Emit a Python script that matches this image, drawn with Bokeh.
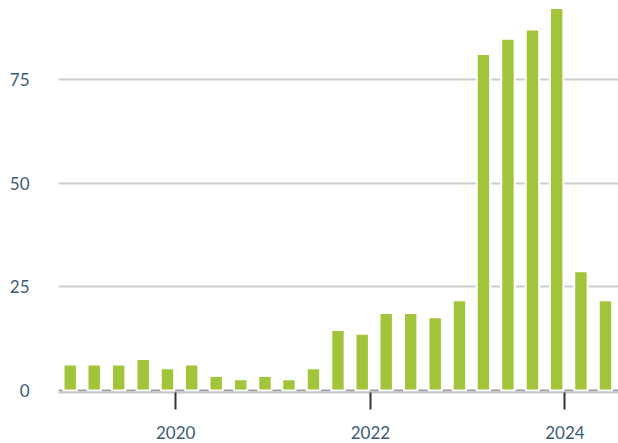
import pandas as pd
from bokeh.plotting import figure
from bokeh.models import ColumnDataSource, Range1d, FixedTicker, DatetimeTickFormatter, Span
from bokeh.embed import file_html
from bokeh.resources import INLINE

# Quarter-end months (bars dated at the first of the month)
quarters = ["2018-12", "2019-03", "2019-06", "2019-09", "2019-12",
            "2020-03", "2020-06", "2020-09", "2020-12",
            "2021-03", "2021-06", "2021-09", "2021-12",
            "2022-03", "2022-06", "2022-09", "2022-12",
            "2023-03", "2023-06", "2023-09", "2023-12",
            "2024-03", "2024-06"]
values = [6.3, 6.3, 6.3, 7.6, 5.4, 6.3, 3.5, 2.7, 3.5, 2.7, 5.4,
          14.6, 13.7, 18.7, 18.7, 17.7, 21.8, 81.2, 84.9, 87.1, 92.3,
          28.8, 21.8]
x_tick_years = [2020, 2022, 2024]
y_ticks = [0, 25, 50, 75]

dates = pd.to_datetime([q + "-01" for q in quarters])
source = ColumnDataSource(data=dict(date=dates, value=values))

TEXT = "#3d5b78"
FONT = "Lato"

p = figure(width=618, height=443, x_axis_type="datetime",
           output_backend="svg", toolbar_location=None,
           x_range=Range1d(start=pd.Timestamp("2018-10-18"), end=pd.Timestamp("2024-07-20")),
           y_range=Range1d(start=-0.48, end=94.11),
           min_border_left=58, min_border_right=0, min_border_top=0, min_border_bottom=51)
p.outline_line_color = None
p.background_fill_color = "white"

zero = Span(location=0, dimension="width", line_color="#9c9fa2", line_width=2, level="underlay")
p.add_layout(zero)

bar_w = 50.3 * 24 * 3600 * 1000
p.vbar(x="date", top="value", bottom=0, width=bar_w, source=source,
       fill_color="#a2c43a", line_color="white", line_width=2)

# x axis
x_ticks_ms = [pd.Timestamp(f"{y}-01-01").value / 1e6 for y in x_tick_years]
p.xaxis.ticker = FixedTicker(ticks=x_ticks_ms)
fmt = "%Y"
p.xaxis.formatter = DatetimeTickFormatter(years=fmt, months=fmt, days=fmt, hours=fmt,
                                          minutes=fmt, seconds=fmt, milliseconds=fmt,
                                          microseconds=fmt, hourmin=fmt, minsec=fmt)
p.xaxis.axis_line_color = "#c3c7cb"
p.xaxis.axis_line_width = 2
p.xaxis.major_tick_line_color = "#333333"
p.xaxis.major_tick_line_width = 2
p.xaxis.major_tick_out = 17
p.xaxis.major_tick_in = 0
p.xaxis.minor_tick_line_color = None
p.xaxis.major_label_text_font = FONT
p.xaxis.major_label_text_font_size = "17px"
p.xaxis.major_label_text_color = TEXT
p.xaxis.major_label_standoff = 16

# y axis
p.yaxis.ticker = FixedTicker(ticks=y_ticks)
p.yaxis.axis_line_color = None
p.yaxis.major_tick_line_color = None
p.yaxis.minor_tick_line_color = None
p.yaxis.major_tick_out = 0
p.yaxis.major_tick_in = 0
p.yaxis.major_label_standoff = 29
p.yaxis.major_label_text_font = FONT
p.yaxis.major_label_text_font_size = "17px"
p.yaxis.major_label_text_color = TEXT

p.xgrid.grid_line_color = None
p.ygrid.ticker = FixedTicker(ticks=[25, 50, 75])
p.ygrid.grid_line_color = "#c9ccd0"
p.ygrid.grid_line_width = 2

open("out.html", "w").write(file_html(p, INLINE))
